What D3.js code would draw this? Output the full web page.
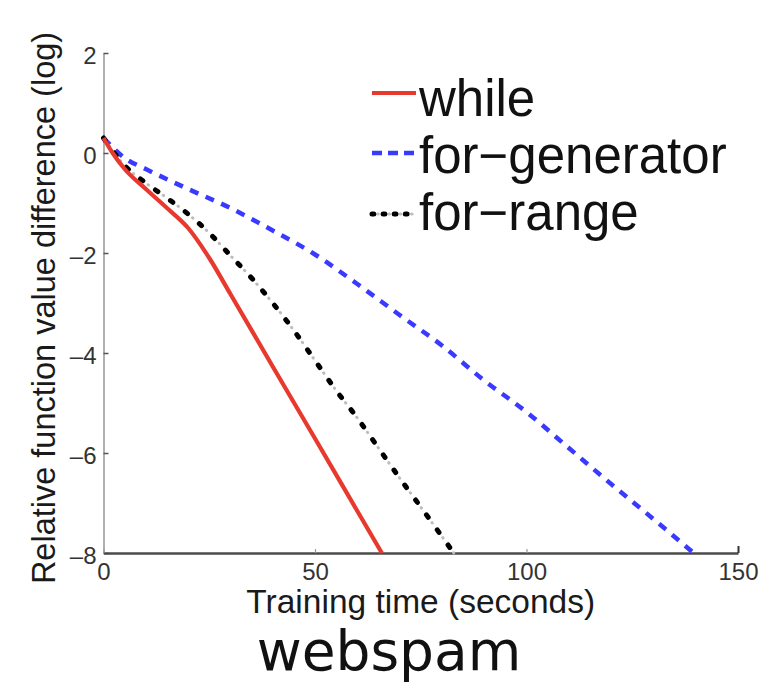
<!DOCTYPE html>
<html>
<head>
<meta charset="utf-8">
<script src="https://cdn.jsdelivr.net/npm/d3@7"></script>
<style>
  html, body { margin: 0; padding: 0; background: #fff; }
  svg { display: block; }
</style>
</head>
<body>
<svg id="chart" width="779" height="685"></svg>
<script>
// Convergence of the three loop variants on webspam
const xTicks = [0, 50, 100, 150];
const yTicks = [2, 0, -2, -4, -6, -8];

const whileTime = [0, 2, 5, 10, 15, 20, 25, 30, 40, 50, 60, 65.8];
const whileVal  = [0.3, 0.02, -0.32, -0.72, -1.1, -1.5, -2.1, -2.82, -4.27, -5.71, -7.16, -8];

const generatorTime = [0, 5, 10, 20, 30, 40, 50, 60, 70, 80, 90, 100, 110, 120, 130, 139.5];
const generatorVal  = [0.3, -0.1, -0.32, -0.72, -1.1, -1.55, -2.03, -2.62, -3.24, -3.85, -4.55, -5.18, -5.9, -6.62, -7.32, -8];

const rangeTime = [0, 5, 10, 15, 20, 25, 30, 35, 40, 45, 50, 55, 60, 65, 70, 75, 82.8];
const rangeVal  = [0.3, -0.25, -0.6, -0.9, -1.22, -1.6, -2.05, -2.5, -3.0, -3.55, -4.15, -4.75, -5.3, -5.9, -6.5, -7.08, -8];

const seriesNames = ["while", "for\u2212generator", "for\u2212range"];

const svg = d3.select("#chart");
const font = "'Liberation Sans', Arial, Helvetica, sans-serif";

const x = d3.scaleLinear().domain([0, 150]).range([103.5, 738]);
const y = d3.scaleLinear().domain([-8, 2]).range([553, 53]);

const zip = (ts, vs) => ts.map((t, i) => [t, vs[i]]);
const line = d3.line().x(d => x(d[0])).y(d => y(d[1])).curve(d3.curveMonotoneX);

// axes (inward ticks, no box)
const yAxis = svg.append("g")
  .attr("transform", `translate(${x(0)},0)`)
  .call(d3.axisLeft(y).tickValues(yTicks).tickSizeInner(-5).tickSizeOuter(0).tickPadding(7)
    .tickFormat(d => d < 0 ? "\u2013" + Math.abs(d) : d));
yAxis.select(".domain").attr("stroke", "#b0b0b0").attr("stroke-width", 2);
yAxis.selectAll(".tick line").attr("stroke", "#555").attr("stroke-width", 1.5);
yAxis.selectAll(".tick text")
  .attr("font-family", font).attr("font-size", 24).attr("fill", "#333")
  .attr("dy", "0.42em");

const xAxis = svg.append("g")
  .attr("transform", `translate(0,${y(-8)})`)
  .call(d3.axisBottom(x).tickValues(xTicks).tickSizeInner(-4).tickSizeOuter(0).tickPadding(10));
xAxis.select(".domain").attr("stroke", "#4a4a4a").attr("stroke-width", 2.5);
xAxis.selectAll(".tick line").attr("stroke", "#999").attr("stroke-width", 1.2);
xAxis.selectAll(".tick").filter(d => d === 150).select("line")
  .attr("stroke", "#333").attr("stroke-width", 2).attr("y2", -7);
xAxis.selectAll(".tick text")
  .attr("font-family", font).attr("font-size", 24).attr("fill", "#333");

// axis titles
svg.append("text")
  .attr("x", (x(0) + x(150)) / 2).attr("y", 613)
  .attr("text-anchor", "middle")
  .attr("font-family", font).attr("font-size", 33.5).attr("fill", "#1a1a1a")
  .text("Training time (seconds)");

svg.append("text")
  .attr("transform", `translate(55,${(y(-8) + y(2)) / 2 + 5}) rotate(-90)`)
  .attr("text-anchor", "middle")
  .attr("font-family", font).attr("font-size", 32.5).attr("fill", "#1a1a1a")
  .text("Relative function value difference (log)");

svg.append("text")
  .attr("x", 389).attr("y", 670)
  .attr("text-anchor", "middle")
  .attr("font-family", "'DejaVu Sans', Verdana, sans-serif").attr("font-size", 55).attr("fill", "#111")
  .text("webspam");

// line styles
function drawWhile(sel) {
  return sel.attr("fill", "none").attr("stroke", "#e8392e").attr("stroke-width", 4.2);
}
function drawGenerator(sel) {
  return sel.attr("fill", "none").attr("stroke", "#3a3aff").attr("stroke-width", 4.5)
    .attr("stroke-dasharray", "9,8");
}
function drawRange(g, d, scale) {
  const k = scale || 1;
  g.append("path").attr("d", d).attr("fill", "none")
    .attr("stroke", "#bdbdbd").attr("stroke-width", 3).attr("stroke-linecap", "round")
    .attr("stroke-dasharray", `0,${9.5 * k},0.5,${8.5 * k}`);
  g.append("path").attr("d", d).attr("fill", "none")
    .attr("stroke", "#000").attr("stroke-width", 5).attr("stroke-linecap", "round")
    .attr("stroke-dasharray", `${3 * k},${15.5 * k}`);
}

const plot = svg.append("g");
drawGenerator(plot.append("path").attr("d", line(zip(generatorTime, generatorVal))));
drawRange(plot.append("g"), line(zip(rangeTime, rangeVal)));
drawWhile(plot.append("path").attr("d", line(zip(whileTime, whileVal))));

// legend
const legend = svg.append("g");
const rowY = [116, 173, 230];
const sampleX0 = 372, sampleX1 = 416;
const samplePath = (yy) => `M${sampleX0},${yy}L${sampleX1},${yy}`;
drawWhile(legend.append("path").attr("d", samplePath(rowY[0] - 23)));
drawGenerator(legend.append("path").attr("d", samplePath(rowY[1] - 20)))
  .attr("stroke-dasharray", "10,6");
drawRange(legend.append("g"), samplePath(rowY[2] - 16), 0.6);
seriesNames.forEach((name, i) => {
  legend.append("text")
    .attr("x", 419).attr("y", rowY[i])
    .attr("font-family", font).attr("font-size", 51).attr("fill", "#111")
    .text(name);
});
</script>
</body>
</html>
